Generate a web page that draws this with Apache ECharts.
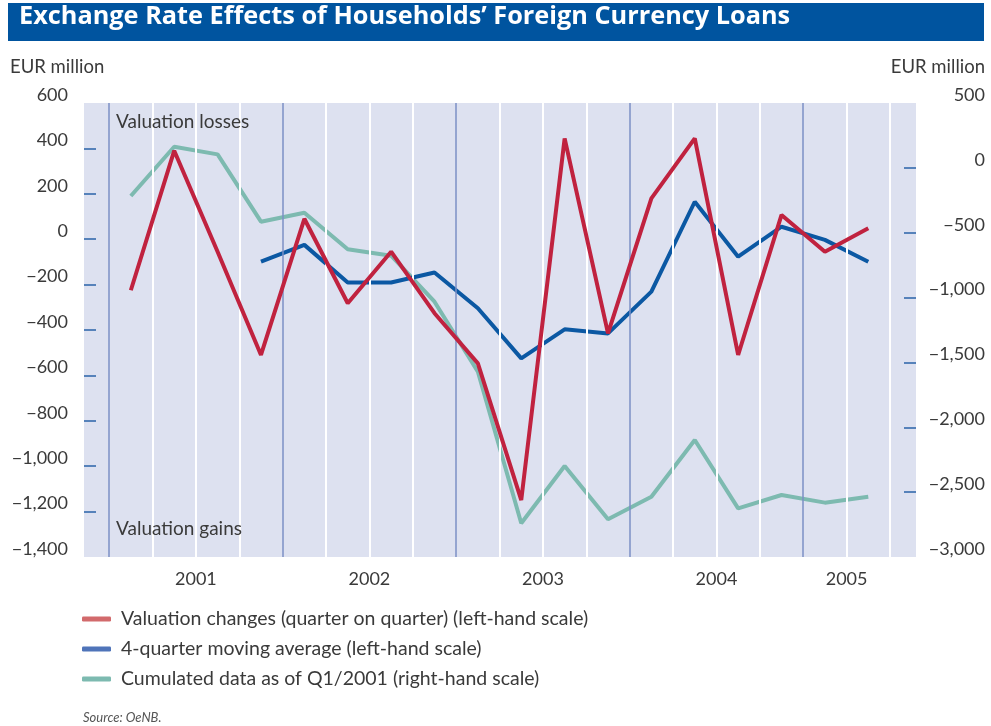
<!DOCTYPE html>
<html><head><meta charset="utf-8">
<script src="https://cdn.jsdelivr.net/npm/echarts@6/dist/echarts.min.js"></script>
<style>html,body{margin:0;padding:0;background:#fff}#c{width:991px;height:726px}</style>
</head><body><div id="c"></div>
<script>
// ---- data ----
const quarters = ['Q1 2001','Q2 2001','Q3 2001','Q4 2001','Q1 2002','Q2 2002','Q3 2002','Q4 2002',
  'Q1 2003','Q2 2003','Q3 2003','Q4 2003','Q1 2004','Q2 2004','Q3 2004','Q4 2004','Q1 2005','Q2 2005'];
const yearLabels = ['2001','2002','2003','2004','2005'];
const yearLabelPositions = [1.5, 5.5, 9.5, 13.5, 16.5]; // centre of each year's quarters (quarter index)
const valuationChanges = [-225, 390, -55, -510, 90, -282, -55, -326, -547, -1149, 444, -415, 180, 444, -510, 107, -55, 48];
const movingAverage = [null, null, null, -99, -25, -191, -191, -147, -304, -525, -397, -415, -231, 165, -77, 55, -3, -99];
const cumulated = [-217, 163, 104, -415, -346, -628, -677, -1032, -1571, -2740, -2298, -2709, -2535, -2098, -2625, -2522, -2581, -2535];
const leftTickValues = [400, 200, 0, -200, -400, -600, -800, -1000, -1200];
const rightTickValues = [0, -500, -1000, -1500, -2000, -2500];
const seriesNames = ['Valuation changes (quarter on quarter) (left-hand scale)',
  '4-quarter moving average (left-hand scale)',
  'Cumulated data as of Q1/2001 (right-hand scale)'];

// ---- styles ----
const FONT = 'Lato, "Open Sans", sans-serif';
const TXT = '#3a3a3a';
const RED = '#c0223f', BLUE = '#0b58a3', GREEN = '#7dbab0';

const fmt = v => (v < 0 ? '\u2212' : '') + Math.abs(v).toLocaleString('en-US');
const pairs = arr => arr.map((v, i) => [i, v]);

// quarter boundaries (between consecutive quarters); year boundaries before each Q1
const boundaries = [];
for (let i = 0; i <= quarters.length; i++) {
  const isYear = i < quarters.length ? quarters[i].startsWith('Q1') : false;
  boundaries.push({
    xAxis: i - 0.5,
    lineStyle: isYear ? {color: '#7b8fc6', width: 1.5, type: 'solid'} : {color: '#ffffff', width: 2, type: 'solid'}
  });
}

const chart = echarts.init(document.getElementById('c'), null, {renderer: 'canvas'});
chart.setOption({
  animation: false,
  textStyle: {fontFamily: FONT},
  grid: {left: 84, right: 75, top: 103, bottom: 169, show: true, backgroundColor: '#dde1f0', borderWidth: 0},
  xAxis: {
    type: 'value', min: -1.08, max: 18.1,
    axisLine: {show: false, onZero: false}, axisTick: {show: false}, splitLine: {show: false},
    axisLabel: {
      customValues: yearLabelPositions,
      formatter: v => yearLabels[yearLabelPositions.indexOf(v)] || '',
      color: TXT, fontSize: 18, fontFamily: FONT, margin: 13
    }
  },
  yAxis: [{
    type: 'value', min: -1400, max: 600, interval: 200, position: 'left',
    axisLine: {show: false, onZero: false}, splitLine: {show: false},
    axisTick: {show: true, inside: true, length: 12, customValues: leftTickValues, lineStyle: {color: '#2a63a8', width: 1.5}},
    axisLabel: {formatter: fmt, color: TXT, fontSize: 18, fontFamily: FONT, margin: 16, verticalAlign: 'bottom', lineHeight: 16}
  }, {
    type: 'value', min: -3000, max: 500, interval: 500, position: 'right',
    axisLine: {show: false, onZero: false}, splitLine: {show: false},
    axisTick: {show: true, inside: true, length: 12, customValues: rightTickValues, lineStyle: {color: '#2a63a8', width: 1.5}},
    axisLabel: {formatter: fmt, color: TXT, fontSize: 18, fontFamily: FONT, margin: 69, align: 'right', verticalAlign: 'bottom', lineHeight: 16}
  }],
  legend: {
    orient: 'vertical', left: 82, top: 609, padding: 0, itemWidth: 29, itemHeight: 5, itemGap: 10,
    icon: 'roundRect',
    textStyle: {color: TXT, fontSize: 19.5, fontFamily: FONT, lineHeight: 18, padding: [0, 0, 0, 5]},
    data: [
      {name: seriesNames[0], itemStyle: {color: '#d26a6c'}},
      {name: seriesNames[1], itemStyle: {color: '#4f74b9'}},
      {name: seriesNames[2], itemStyle: {color: '#7dbab0'}}
    ]
  },
  series: [{
    name: 'grid lines', type: 'line', z: 1, silent: true, data: pairs(valuationChanges),
    showSymbol: false, lineStyle: {opacity: 0}, itemStyle: {opacity: 0},
    markLine: {silent: true, symbol: ['none', 'none'], label: {show: false}, data: boundaries, animation: false}
  }, {
    name: seriesNames[2], type: 'line', yAxisIndex: 1, z: 3, data: pairs(cumulated),
    showSymbol: false, lineStyle: {color: GREEN, width: 4}, itemStyle: {color: GREEN}
  }, {
    name: seriesNames[1], type: 'line', yAxisIndex: 0, z: 4, data: pairs(movingAverage),
    showSymbol: false, lineStyle: {color: BLUE, width: 4}, itemStyle: {color: BLUE}
  }, {
    name: seriesNames[0], type: 'line', yAxisIndex: 0, z: 5, data: pairs(valuationChanges),
    showSymbol: false, lineStyle: {color: RED, width: 4}, itemStyle: {color: RED}
  }],
  graphic: [
    {type: 'rect', left: 8, top: 3, shape: {width: 976, height: 38}, style: {fill: '#00549f'}, z: 0},
    {type: 'text', left: 19, top: 4, style: {text: 'Exchange Rate Effects of Households\u2019 Foreign Currency Loans', fill: '#ffffff', font: 'bold 25.3px "Open Sans", sans-serif'}, z: 1},
    {type: 'text', left: 10, top: 58, style: {text: 'EUR million', fill: TXT, font: '18.5px ' + FONT}},
    {type: 'text', right: 6, top: 58, style: {text: 'EUR million', fill: TXT, font: '18.5px ' + FONT}},
    {type: 'text', left: 116, top: 112, style: {text: 'Valuation losses', fill: TXT, font: '19px ' + FONT}, z: 10},
    {type: 'text', left: 116, top: 519, style: {text: 'Valuation gains', fill: TXT, font: '19px ' + FONT}, z: 10},
    {type: 'text', left: 83, top: 711, style: {text: 'Source: OeNB.', fill: '#555555', font: 'italic 13px ' + FONT}}
  ]
});
</script>
</body></html>
